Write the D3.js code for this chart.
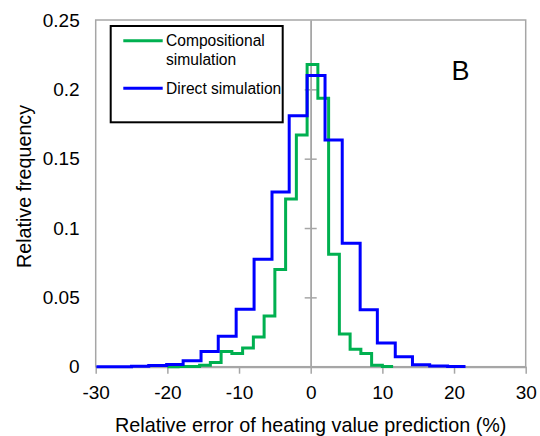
<!DOCTYPE html>
<html><head><meta charset="utf-8">
<script src="https://cdnjs.cloudflare.com/ajax/libs/d3/7.8.5/d3.min.js"></script>
<style>body{margin:0;background:#fff}svg{display:block;font-family:"Liberation Sans",Arial,sans-serif}</style>
</head><body><svg id="c" width="540" height="436"></svg>
<script>
// Bin edges (relative error, %) and relative frequencies
const compEdges = [-20,-18.5,-17,-15.5,-14,-12.5,-11,-9.5,-8,-6.5,-5,-3.5,-2,-0.5,1,2.5,4,5.5,7,8.5,10,11.5];
const compValues = [0,0.0002,0.0002,0.001,0.003,0.011,0.0095,0.0135,0.0215,0.0365,0.070,0.121,0.167,0.218,0.1935,0.081,0.0235,0.0125,0.0095,0.001,0.0002];
const directEdges = [-29.9,-27.45,-25,-22.6,-20.1,-17.8,-15.3,-12.9,-10.4,-7.9,-5.4,-3.0,-0.5,2.0,4.4,6.9,9.3,11.8,14.2,16.6,19.1,21.6];
const directValues = [0,0,0.0003,0.0008,0.0015,0.0043,0.011,0.022,0.0415,0.0775,0.126,0.181,0.210,0.1635,0.089,0.041,0.017,0.0072,0.0014,0.0005,0.0002];
const xTicks = [-30,-20,-10,0,10,20,30];
const yTicks = [0,0.05,0.1,0.15,0.2,0.25];
const seriesNames = ["Compositional simulation","Direct simulation"];

const svg = d3.select("#c");
const L=95.7,R=525.7,T=20,B=366.7;
const x = d3.scaleLinear().domain([-30,30]).range([L,R]);
const y = d3.scaleLinear().domain([0,0.25]).range([B,T]);
const grey="#a6a6a6";
const FF="Liberation Sans, Arial, sans-serif";

// frame
svg.append("rect").attr("x",L).attr("y",T).attr("width",R-L).attr("height",B-T)
  .attr("fill","none").attr("stroke",grey).attr("stroke-width",1.5);

// x axis
const xa = svg.append("g").attr("transform",`translate(0,${B})`)
  .call(d3.axisBottom(x).tickValues(xTicks).tickSizeInner(7).tickSizeOuter(0).tickPadding(12).tickFormat(d=>String(d)));
xa.select(".domain").attr("stroke",grey).attr("stroke-width",2);
xa.selectAll(".tick line").attr("stroke",grey).attr("stroke-width",1.5);
xa.selectAll("text").attr("font-size",19).attr("fill","#000").attr("font-family",FF);

// y labels at left frame
const ya = svg.append("g").attr("transform",`translate(${L},0)`)
  .call(d3.axisLeft(y).tickValues(yTicks).tickSize(0).tickPadding(16).tickFormat(d=>String(d)));
ya.select(".domain").remove();
ya.selectAll("text").attr("font-size",19).attr("fill","#000").attr("font-family",FF);

// central vertical axis at x=0 with crossing ticks
const ca1 = svg.append("g").attr("transform",`translate(${x(0)},0)`)
  .call(d3.axisLeft(y).tickValues(yTicks.slice(1,5)).tickSizeInner(6).tickSizeOuter(0).tickFormat(""));
const ca2 = svg.append("g").attr("transform",`translate(${x(0)},0)`)
  .call(d3.axisRight(y).tickValues(yTicks.slice(1,5)).tickSizeInner(6).tickSizeOuter(0).tickFormat(""));
[ca1,ca2].forEach(g=>{g.select(".domain").attr("stroke",grey).attr("stroke-width",1.5);g.selectAll(".tick line").attr("stroke",grey).attr("stroke-width",1.5);});

// step lines
function pts(edges,vals){const p=vals.map((v,i)=>[edges[i],v]);p.push([edges[edges.length-1],vals[vals.length-1]]);return p;}
const line = d3.line().x(d=>x(d[0])).y(d=>y(d[1])).curve(d3.curveStepAfter);
svg.append("path").attr("d",line(pts(compEdges,compValues))).attr("fill","none").attr("stroke","#00b050").attr("stroke-width",3);
svg.append("path").attr("d",line(pts(directEdges,directValues))).attr("fill","none").attr("stroke","#0000ff").attr("stroke-width",3);

// legend
const lg = svg.append("g");
lg.append("rect").attr("x",110.7).attr("y",26).attr("width",172).attr("height",96.3).attr("fill","#fff").attr("stroke","#000").attr("stroke-width",2);
lg.append("line").attr("x1",123.3).attr("x2",162.7).attr("y1",40.7).attr("y2",40.7).attr("stroke","#00b050").attr("stroke-width",3);
lg.append("line").attr("x1",123.3).attr("x2",162.7).attr("y1",88.3).attr("y2",88.3).attr("stroke","#0000ff").attr("stroke-width",3);
const t1 = lg.append("text").attr("x",166).attr("y",46).attr("font-size",15.6);
t1.append("tspan").attr("x",166).text(seriesNames[0].split(" ")[0]);
t1.append("tspan").attr("x",166).attr("y",64.5).text(seriesNames[0].split(" ")[1]);
lg.append("text").attr("x",166).attr("y",93.5).attr("font-size",15.6).text(seriesNames[1]);

// panel letter
svg.append("text").attr("x",451.5).attr("y",80).attr("font-size",27).text("B");

// axis titles
svg.append("text").attr("x",(L+R)/2).attr("y",432).attr("text-anchor","middle").attr("font-size",19.8)
  .text("Relative error of heating value prediction (%)");
svg.append("text").attr("transform","translate(31,186.5) rotate(-90)").attr("text-anchor","middle").attr("font-size",19.7)
  .text("Relative frequency");
</script></body></html>
